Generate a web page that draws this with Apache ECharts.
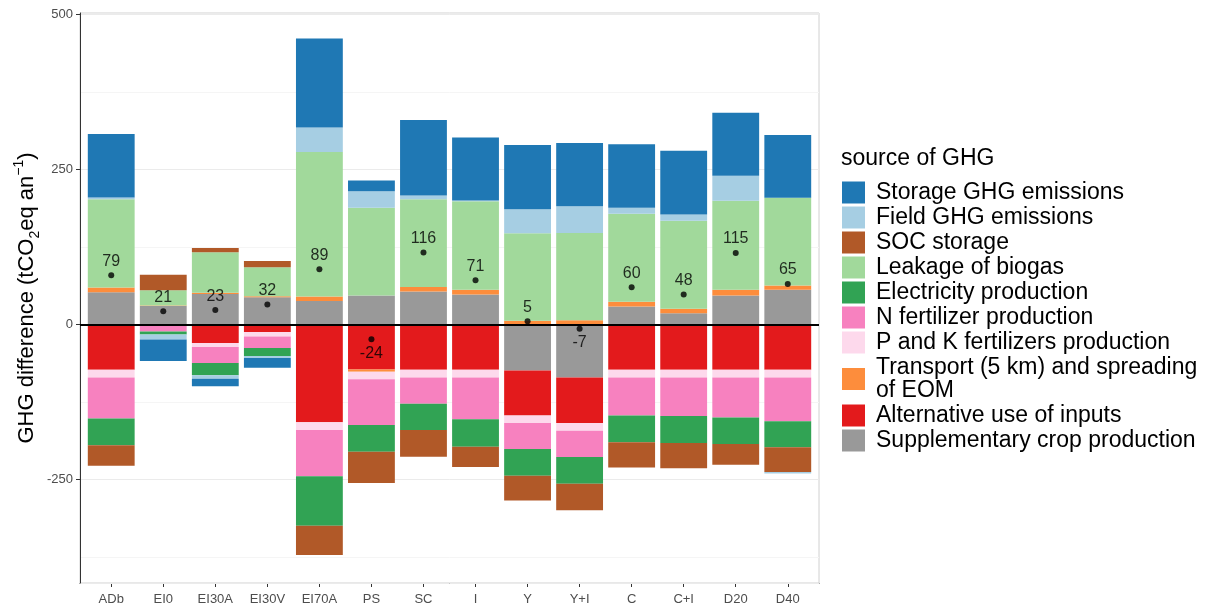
<!DOCTYPE html>
<html>
<head>
<meta charset="utf-8">
<script src="https://cdn.jsdelivr.net/npm/echarts@6/dist/echarts.min.js"></script>
<style>
  html, body { margin: 0; padding: 0; background: #fff; }
  #chart { width: 1206px; height: 607px; }
</style>
</head>
<body>
<div id="chart"></div>
<script>
// Scenarios on the x axis
const categories = ['ADb', 'EI0', 'EI30A', 'EI30V', 'EI70A', 'PS', 'SC', 'I', 'Y', 'Y+I', 'C', 'C+I', 'D20', 'D40'];

// GHG difference by source (tCO2eq per year)
const storage     = [102.4, -34.6, -12.3, -15.6, 143.7, 17.2, 121.8, 101.7, 103.6, 102.1, 102.1, 102.7, 101.4, 101.3];
const field       = [3.0, -8.0, -5.4, -3.2, 39.4, 26.5, 6.1, 1.0, 38.7, 43.0, 9.8, 9.9, 40.6, -2.4];
const soc         = [-33.2, 25.0, 6.8, 9.8, -47.4, -50.4, -43.1, -32.6, -40.0, -42.7, -40.6, -40.6, -33.3, -40.0];
const leakage     = [142.1, 24.5, 65.2, 46.9, 233.0, 141.4, 141.4, 142.6, 140.8, 140.8, 142.0, 142.0, 143.2, 141.4];
const electricity = [-43.0, -4.8, -19.9, -12.9, -79.9, -43.1, -42.4, -44.3, -43.1, -43.0, -43.0, -43.6, -43.0, -41.8];
const nFert       = [-66.4, -9.1, -25.7, -18.6, -74.4, -73.9, -42.4, -67.6, -41.8, -42.5, -61.5, -62.1, -64.5, -70.7];
const pkFert      = [-12.3, -2.5, -6.4, -7.1, -12.3, -12.1, -12.3, -12.3, -12.2, -12.3, -12.3, -12.3, -12.3, -12.3];
const transport   = [8.0, 1.0, 2.0, 1.6, 7.4, -3.5, 7.4, 8.0, 6.0, 6.5, 7.4, 7.4, 9.3, 6.7];
const altUse      = [-73.2, 0, -30.2, -12.5, -158.0, -72.8, -73.2, -73.2, -72.6, -73.7, -73.2, -73.2, -73.2, -73.2];
const suppCrop    = [51.6, 29.5, 49.0, 43.7, 37.5, 46.7, 52.9, 48.0, -74.4, -85.5, 28.9, 17.8, 46.7, 56.0];

// Net balance per scenario
const netBalance = [79, 21, 23, 32, 89, -24, 116, 71, 5, -7, 60, 48, 115, 65];

// Axis extents and ticks
const xPad = 0.6;
const yMin = -417, yMax = 502;
const majorStep = 250, minorStep = 125;

// Sources in legend order (top of the stack first)
const sources = [
  { name: 'Storage GHG emissions', data: storage, color: '#1f78b4' },
  { name: 'Field GHG emissions', data: field, color: '#a6cee3' },
  { name: 'SOC storage', data: soc, color: '#b15928' },
  { name: 'Leakage of biogas', data: leakage, color: '#a1d99b' },
  { name: 'Electricity production', data: electricity, color: '#31a354' },
  { name: 'N fertilizer production', data: nFert, color: '#f781bf' },
  { name: 'P and K fertilizers production', data: pkFert, color: '#fdd9ec' },
  { name: 'Transport (5 km) and spreading\nof EOM', data: transport, color: '#fd8d3c' },
  { name: 'Alternative use of inputs', data: altUse, color: '#e31a1c' },
  { name: 'Supplementary crop production', data: suppCrop, color: '#999999' }
];

const FONT = "'Liberation Sans', Arial, sans-serif";
const positions = categories.map((_, i) => i);

// Stack from zero outward: last legend entry sits next to the axis.
// Each row is [value, position] so the stacked dimension is the value.
const barSeries = sources.slice().reverse().map(s => ({
  name: s.name,
  type: 'bar',
  stack: 'ghg',
  barCategoryGap: '10%',
  itemStyle: { color: s.color },
  emphasis: { disabled: true },
  encode: { x: 1, y: 0 },
  data: s.data.map((v, i) => [v, positions[i]])
}));

const netSeries = {
  name: 'net',
  type: 'scatter',
  z: 5,
  symbol: 'circle',
  symbolSize: 6,
  itemStyle: { color: '#000' },
  emphasis: { disabled: true },
  label: {
    show: true,
    color: '#000',
    fontSize: 16,
    fontFamily: FONT,
    distance: 3
  },
  data: netBalance.map((v, i) => ({
    value: [positions[i], v],
    label: { position: v < 0 ? 'bottom' : 'top', formatter: String(v) }
  })),
  markLine: {
    silent: true,
    symbol: 'none',
    label: { show: false },
    lineStyle: { color: '#000', width: 2, type: 'solid' },
    data: [{ yAxis: 0 }]
  }
};

const chart = echarts.init(document.getElementById('chart'), null, { renderer: 'canvas' });

chart.setOption({
  animation: false,
  backgroundColor: '#fff',
  textStyle: { fontFamily: FONT },
  title: {
    text: 'source of GHG',
    left: 841,
    top: 147,
    padding: 0,
    textStyle: { fontSize: 23, fontWeight: 'normal', color: '#000', fontFamily: FONT }
  },
  legend: {
    orient: 'vertical',
    left: 842,
    top: 181,
    padding: 0,
    itemGap: 2,
    itemWidth: 23,
    itemHeight: 22,
    icon: 'rect',
    selectedMode: false,
    data: sources.map(s => s.name),
    textStyle: { fontSize: 23, lineHeight: 23, color: '#000', fontFamily: FONT, padding: [0, 0, 0, 6] }
  },
  grid: {
    left: 80,
    right: 387,
    top: 13,
    bottom: 24,
    show: true,
    borderColor: '#d0d0d0',
    borderWidth: 1,
    containLabel: false
  },
  xAxis: {
    type: 'value',
    min: -xPad,
    max: categories.length - 1 + xPad,
    minInterval: 1,
    maxInterval: 1,
    axisLine: { show: true, onZero: false, lineStyle: { color: '#333', width: 1 } },
    axisTick: { show: true, length: 4, customValues: positions, lineStyle: { color: '#333' } },
    axisLabel: {
      color: '#4d4d4d', fontSize: 13, margin: 10, fontFamily: FONT,
      customValues: positions,
      formatter: v => categories[Math.round(v)] || ''
    },
    splitLine: { show: false }
  },
  yAxis: [
    {
      type: 'value',
      min: yMin,
      max: yMax,
      minInterval: majorStep,
      maxInterval: majorStep,
      z: 2,
      name: '{t|GHG difference (tCO}{sub|2}{t|eq an}{sup|\u22121}{t|)}',
      nameLocation: 'middle',
      nameRotate: 90,
      nameGap: 38,
      nameMoveOverlap: false,
      nameTextStyle: {
        rich: {
          t: { fontSize: 22, color: '#000', fontFamily: FONT, lineHeight: 30 },
          sub: { fontSize: 14, color: '#000', fontFamily: FONT, lineHeight: 19, verticalAlign: 'bottom' },
          sup: { fontSize: 14, color: '#000', fontFamily: FONT, lineHeight: 12, verticalAlign: 'top' }
        }
      },
      axisLine: { show: true, onZero: false, lineStyle: { color: '#333', width: 1 } },
      axisTick: { show: true, length: 4, lineStyle: { color: '#333' } },
      axisLabel: { color: '#4d4d4d', fontSize: 13, margin: 7, showMinLabel: false, showMaxLabel: false, fontFamily: FONT },
      splitLine: { show: true, lineStyle: { color: '#ebebeb', width: 1 } }
    },
    {
      type: 'value',
      min: yMin,
      max: yMax,
      minInterval: minorStep,
      maxInterval: minorStep,
      z: 0,
      position: 'left',
      axisLine: { show: false },
      axisTick: { show: false },
      axisLabel: { show: false },
      splitLine: { show: true, lineStyle: { color: '#f5f5f5', width: 1 } }
    }
  ],
  series: barSeries.concat([netSeries])
});
</script>
</body>
</html>
